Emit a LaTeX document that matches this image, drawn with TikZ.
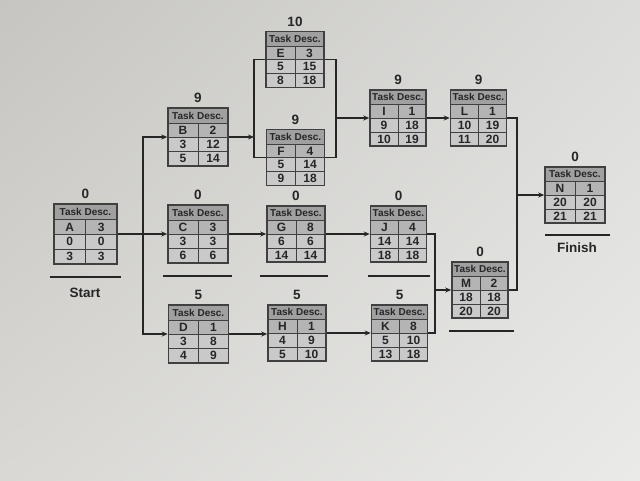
\documentclass[tikz,border=0pt]{standalone}
\usepackage{fontspec}
\setmainfont{Liberation Sans}
\usetikzlibrary{arrows.meta,shadings}
\definecolor{paperul}{HTML}{C6C5C1}
\definecolor{paperur}{HTML}{DCDCDA}
\definecolor{paperll}{HTML}{D9D8D5}
\definecolor{paperlr}{HTML}{EAEAE8}
\definecolor{hdrc}{HTML}{A0A0A0}
\definecolor{rowac}{HTML}{B4B4B4}
\definecolor{rowbc}{HTML}{C9C9C9}
\definecolor{ink}{HTML}{262626}
\definecolor{framec}{HTML}{404040}
\def\BW{58}\def\BH{57}
\newcommand\tbox[9]{%
\begin{scope}[shift={(#2)}]
\pgfmathsetmacro\hw{\BW/2}\pgfmathsetmacro\hh{\BH/2}
\pgfmathsetmacro\ya{-\hh+0.26*\BH}
\pgfmathsetmacro\rh{(0.74*\BH)/3}
\pgfmathsetmacro\yb{\ya+\rh}
\pgfmathsetmacro\yc{\yb+\rh}
\fill[hdrc] (-\hw,-\hh) rectangle (\hw,\ya);
\fill[rowac] (-\hw,\ya) rectangle (\hw,\yb);
\fill[rowbc] (-\hw,\yb) rectangle (\hw,\hh);
\draw[gridline] (-\hw,\ya) -- (\hw,\ya) (-\hw,\yb) -- (\hw,\yb) (-\hw,\yc) -- (\hw,\yc) (0,\ya) -- (0,\hh);
\node[frame, minimum width=\BW pt, minimum height=\BH pt] (#1) at (0,0) {};
\node[hdrtext] (#1-h) at (0,{(-\hh+\ya)/2}) {Task Desc.};
\node[cell] (#1-a) at ({-\hw/2},{(\ya+\yb)/2}) {#4};
\node[cell] (#1-b) at ({\hw/2},{(\ya+\yb)/2}) {#5};
\node[cell] (#1-c) at ({-\hw/2},{(\yb+\yc)/2}) {#6};
\node[cell] (#1-d) at ({\hw/2},{(\yb+\yc)/2}) {#7};
\node[cell] (#1-e) at ({-\hw/2},{(\yc+\hh)/2}) {#8};
\node[cell] (#1-f) at ({\hw/2},{(\yc+\hh)/2}) {#9};
\node[slack] (#1-s) at (0,{-\hh-10}) {#3};
\end{scope}}
\begin{document}
\begin{tikzpicture}[x=1pt,y=-1pt,
  gridline/.style={draw=framec, line width=1pt},
  frame/.style={draw=framec, line width=1.5pt, inner sep=0pt, rectangle},
  hdrtext/.style={text=ink, font=\fontsize{10}{10}\selectfont\bfseries, inner sep=0pt},
  cell/.style={text=ink, font=\fontsize{12}{13}\selectfont\bfseries, inner sep=0pt},
  slack/.style={text=ink, font=\fontsize{13.5}{14}\selectfont\bfseries, inner sep=0pt},
  endlabel/.style={text=ink, font=\fontsize{13.5}{14}\selectfont\bfseries, inner sep=0pt},
  conn/.style={draw=ink, line width=1.4pt, -{Stealth[length=6pt,width=5pt]}},
  link/.style={draw=ink, line width=1.4pt},
  uline/.style={draw=ink, line width=1.8pt}]
\shade[upper left=paperul, upper right=paperur, lower left=paperll, lower right=paperlr] (0,0) rectangle (640,480);
\useasboundingbox (0,0) rectangle (640,480);

\def\BW{63}\def\BH{60}
\tbox{A}{85.5,234}{0}{A}{3}{0}{0}{3}{3}
\def\BW{60}\def\BH{58}
\tbox{B}{198,137}{9}{B}{2}{3}{12}{5}{14}
\tbox{C}{198,234}{0}{C}{3}{3}{3}{6}{6}
\tbox{D}{198.5,334}{5}{D}{1}{3}{8}{4}{9}
\def\BW{58}\def\BH{56}
\tbox{E}{295,59.5}{10}{E}{3}{5}{15}{8}{18}
\tbox{F}{295.5,157.5}{9}{F}{4}{5}{14}{9}{18}
\tbox{G}{296,234}{0}{G}{8}{6}{6}{14}{14}
\tbox{H}{297,333}{5}{H}{1}{4}{9}{5}{10}
\def\BW{56}\def\BH{56}
\tbox{I}{398,118}{9}{I}{1}{9}{18}{10}{19}
\tbox{J}{398.5,234}{0}{J}{4}{14}{14}{18}{18}
\tbox{K}{399.5,333}{5}{K}{8}{5}{10}{13}{18}
\tbox{L}{478.5,118}{9}{L}{1}{10}{19}{11}{20}
\tbox{M}{480,290}{0}{M}{2}{18}{18}{20}{20}
\def\BW{60}\def\BH{56}
\tbox{N}{575,195}{0}{N}{1}{20}{20}{21}{21}

% connectors
\coordinate (split) at (143,234);
\draw[conn] (A.east) -- (C.west);
\draw[conn] (split) |- (B.west);
\draw[conn] (split) |- (D.west);
\coordinate (efin) at (254,137);
\draw[conn] (B.east) -- (efin);
\draw[link] (E.west) -- (E.west -| efin) -- (F.west -| efin) -- (F.west);
\coordinate (efout) at (336,118);
\draw[link] (E.east) -- (E.east -| efout) -- (F.east -| efout) -- (F.east);
\draw[conn] (efout) -- (I.west);
\draw[conn] (C.east) -- (G.west);
\draw[conn] (G.east) -- (J.west);
\draw[conn] (D.east) -- (D.east -| H.west);
\draw[conn] (H.east) -- (K.west);
\draw[conn] (I.east) -- (L.west);
\coordinate (jk) at (435,290);
\draw[link] (J.east) -- (J.east -| jk) -- (K.east -| jk) -- (K.east);
\draw[conn] (jk) -- (M.west);
\coordinate (lm) at (517,195);
\draw[link] (L.east) -- (L.east -| lm) -- (M.east -| lm) -- (M.east);
\draw[conn] (lm) -- (N.west);

% critical path underlines
\draw[uline] (50,277) -- (121,277);
\draw[uline] (163,276) -- (232,276);
\draw[uline] (260,276) -- (328,276);
\draw[uline] (368,276) -- (430,276);
\draw[uline] (449,331) -- (514,331);
\draw[uline] (545,235) -- (610,235);

\node[endlabel] (start) at (85,293) {Start};
\node[endlabel] (finish) at (577,248) {Finish};
\end{tikzpicture}
\end{document}
